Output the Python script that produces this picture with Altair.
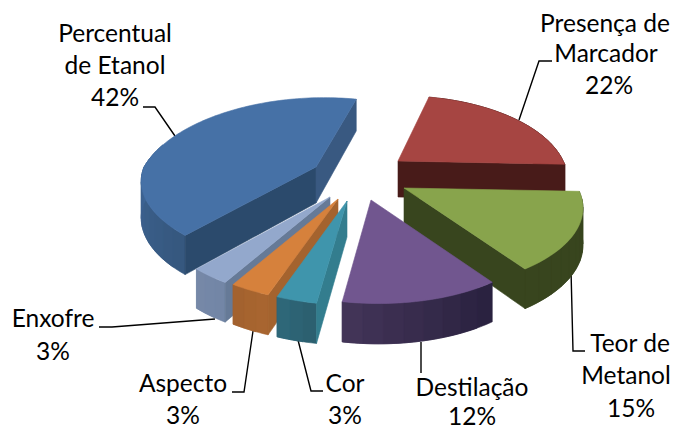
import math
import altair as alt
import pandas as pd

# --- chart values -----------------------------------------------------------
names = ["Percentual de Etanol", "Presença de Marcador", "Teor de Metanol",
         "Destilação", "Cor", "Aspecto", "Enxofre"]
shares = [42, 22, 15, 12, 3, 3, 3]

label_lines = [["Percentual", "de Etanol", "42%"], ["Presença de", "Marcador", "22%"],
               ["Teor de", "Metanol", "15%"], ["Destilação", "12%"],
               ["Cor", "3%"], ["Aspecto", "3%"], ["Enxofre", "3%"]]

# --- 3-D pie projection settings ---------------------------------------------
PAGE_W, PAGE_H = 671, 430
FIRST_ANGLE = 222.0
RX, BY, PERSP, DEPTH = 172.0, 80.8, 0.2235, 36.0

APEX = {"Percentual de Etanol": (316, 167), "Presença de Marcador": (398, 161),
        "Teor de Metanol": (404, 188), "Destilação": (371, 200),
        "Cor": (347, 201), "Aspecto": (338, 199), "Enxofre": (330, 197)}
# per-slice perspective correction: size, shear (far, near), vertical stretch (far, near)
TWEAK = {"Percentual de Etanol": (1.0, (10, -8), (1.05, 0.95)),
         "Presença de Marcador": (0.96, (0, -5), (1.03, 1.0)),
         "Teor de Metanol": (1.01, (-5, -2.8), (1.0, 0.97)),
         "Destilação": (0.985, (-6, -6), (1.0, 1.01))}
DEFAULT_TWEAK = (1.0, (-5, -5), (1.0, 1.0))

STYLE = {
    "Percentual de Etanol": dict(top="#4671a6", cuts=[(0, "#2b4a6c"), (1, "#395981")],
                                 wall=("#36587f", "#41699b"), wall_span=64),
    "Presença de Marcador": dict(top="#a64542", cuts=[(1, "#481b19")], wall=("#481b19", "#481b19")),
    "Teor de Metanol": dict(top="#88a44c", cuts=[(1, "#38451e")], wall=("#38451e", "#38451e")),
    "Destilação": dict(top="#71568f", cuts=[], wall=("#2a2240", "#45365a")),
    "Cor": dict(top="#3f95ac", cuts=[(0, "#337d8e")], wall=("#2c6070", "#2f6a7c")),
    "Aspecto": dict(top="#d6813c", cuts=[(0, "#a4632e")], wall=("#a86530", "#a1612e")),
    "Enxofre": dict(top="#93a8cc", cuts=[(0, "#667a97")], wall=("#7386a6", "#7789a8")),
}
DRAW_ORDER = ["Percentual de Etanol", "Presença de Marcador", "Teor de Metanol",
              "Destilação", "Enxofre", "Aspecto", "Cor"]

# angular span of every slice, clockwise from FIRST_ANGLE
span = {}
a = FIRST_ANGLE
for n, v in zip(names, shares):
    span[n] = (a, a + v / sum(shares) * 360.0)
    a += v / sum(shares) * 360.0


def proj(name, deg):
    """Rim point of slice `name` at `deg`: (x, y_top, y_bottom)."""
    ax, ay = APEX[name]
    k, shear, ky = TWEAK.get(name, DEFAULT_TWEAK)
    t = math.radians(deg)
    X, Y = math.sin(t), math.cos(t)
    s = 1 / (1 + PERSP * Y)
    far = Y > 0
    x = ax + k * (RX * X + (shear[0] if far else shear[1]) * Y) * s
    y = ay - k * (ky[0] if far else ky[1]) * BY * Y * s
    return x, y, y + DEPTH * (1 - 0.12 * Y)


def mix(c1, c2, f):
    p = [int(c1[i:i + 2], 16) for i in (1, 3, 5)]
    q = [int(c2[i:i + 2], 16) for i in (1, 3, 5)]
    return "#%02x%02x%02x" % tuple(round(u + (w - u) * f) for u, w in zip(p, q))


rows, poly = [], 0


def add(points, color):
    global poly
    for x, y in points:
        rows.append({"x": x, "y": y, "poly": poly, "fill": color, "seq": len(rows)})
    poly += 1


for n in DRAW_ORDER:
    st = STYLE[n]
    d0, d1 = span[n]
    ax, ay = APEX[n]
    az = ay + DEPTH
    # outer wall as shaded strips, each running under the next one
    wall_end = d0 + st.get("wall_span", d1 - d0)
    steps = max(3, int((wall_end - d0) / 5))
    step = (wall_end - d0) / steps
    for i in range(steps):
        arc = [d0 + step * i + (min(2 * step, wall_end - d0 - step * i)) * j / 5 for j in range(6)]
        pts = [proj(n, u) for u in arc]
        add([(p[0], p[1]) for p in pts] + [(p[0], p[2]) for p in reversed(pts)],
            mix(st["wall"][0], st["wall"][1], i / steps))
    # cut faces
    for which, color in st["cuts"]:
        x, t, b = proj(n, d1 if which else d0)
        add([(ax, ay), (x, t), (x, b), (ax, az)], color)
    # top face
    nsteps = int((d1 - d0) / 1.5) + 2
    rim = [proj(n, d0 + (d1 - d0) * i / (nsteps - 1))[:2] for i in range(nsteps)]
    add([(ax, ay)] + rim, st["top"])

faces = pd.DataFrame(rows)

xs = alt.Scale(domain=[8, PAGE_W], range=[0, PAGE_W - 8], nice=False, zero=False)
ys = alt.Scale(domain=[8, PAGE_H], range=[0, PAGE_H - 8], nice=False, zero=False)

pie = alt.Chart(faces).mark_line(interpolate="linear-closed", strokeWidth=0.6).encode(
    x=alt.X("x:Q", scale=xs, axis=None),
    y=alt.Y("y:Q", scale=ys, axis=None),
    detail="poly:N",
    fill=alt.Fill("fill:N", scale=None),
    stroke=alt.Stroke("fill:N", scale=None),
    order="seq:Q",
)

# --- leader lines ------------------------------------------------------------
LEADERS = {"Percentual de Etanol": [(143, 107), (155, 107), (175, 136)],
           "Presença de Marcador": [(552, 61), (539, 61), (519, 120)],
           "Teor de Metanol": [(585, 351), (573, 351), (571, 270)],
           "Destilação": [(421, 342), (421, 373)],
           "Cor": [(323, 391), (311, 391), (298, 340)],
           "Aspecto": [(232, 392), (244, 392), (253, 331)],
           "Enxofre": [(99, 327), (112, 327), (215, 319)]}
lead_rows = [{"x": x, "y": y, "name": n, "seq": i}
             for n, pts in LEADERS.items() for i, (x, y) in enumerate(pts)]
leaders = alt.Chart(pd.DataFrame(lead_rows)).mark_line(color="#000000", strokeWidth=1.4).encode(
    x=alt.X("x:Q", scale=xs, axis=None),
    y=alt.Y("y:Q", scale=ys, axis=None),
    detail="name:N",
    order="seq:Q",
)

# --- labels -------------------------------------------------------------------
LABEL_POS = {"Percentual de Etanol": ([115, 115, 115], [42, 74, 106]),
             "Presença de Marcador": ([605, 606, 609], [32, 62, 94]),
             "Teor de Metanol": ([630, 626, 631], [352, 384, 417]),
             "Destilação": ([472, 472], [396, 425]),
             "Cor": ([345, 345], [392, 424]),
             "Aspecto": ([183, 183], [392, 424]),
             "Enxofre": ([53, 53], [327, 360])}
text_rows = []
for n, lines in zip(names, label_lines):
    cxs, bases = LABEL_POS[n]
    for line, cx, b in zip(lines, cxs, bases):
        text_rows.append({"x": cx, "y": b, "t": line})
labels = alt.Chart(pd.DataFrame(text_rows)).mark_text(
    font="Lato", fontSize=24.5, color="#000000", align="center", baseline="alphabetic"
).encode(
    x=alt.X("x:Q", scale=xs, axis=None),
    y=alt.Y("y:Q", scale=ys, axis=None),
    text="t:N",
)

chart = alt.layer(leaders, pie, labels).properties(
    width=PAGE_W - 8, height=PAGE_H - 8, padding=0, background="#ffffff",
    autosize=alt.AutoSizeParams(type="none"),
).configure_view(stroke=None)

chart.save("out.html", embed_options={"renderer": "svg", "actions": False})
